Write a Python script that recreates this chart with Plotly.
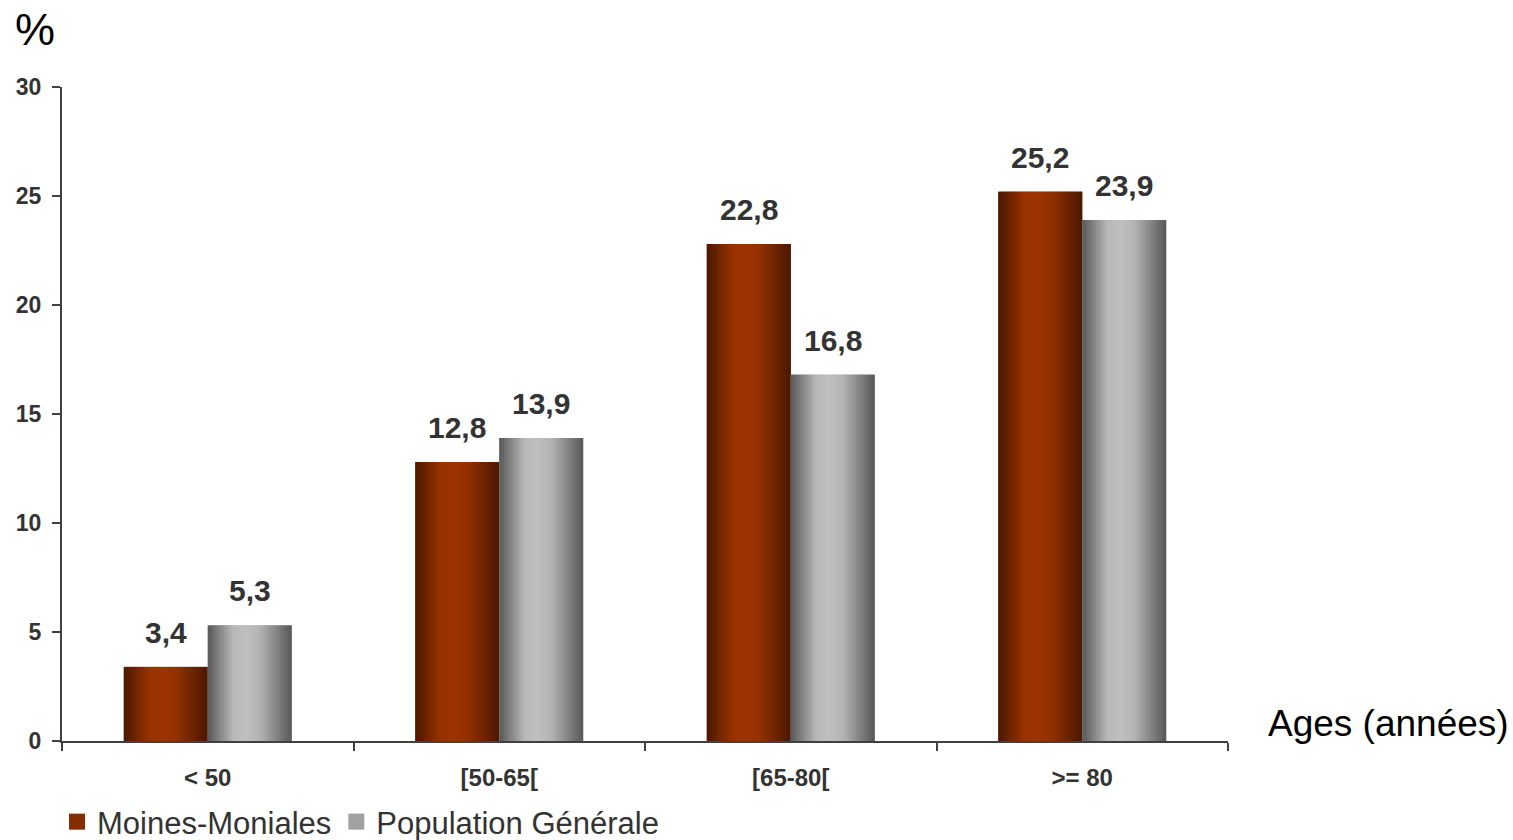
import plotly.graph_objects as go

# ---- data ----
categories = ["< 50", "[50-65[", "[65-80[", ">= 80"]
moines = [3.4, 12.8, 22.8, 25.2]
population = [5.3, 13.9, 16.8, 23.9]
series_names = ["Moines-Moniales", "Population Générale"]
y_ticks = [0, 5, 10, 15, 20, 25, 30]
x_title = "Ages (années)"
y_title = "%"

# ---- layout geometry / style ----
W, H = 1513, 840
ML, MR, MT, MB = 62, 285, 87, 99
plot_w = W - ML - MR
plot_h = H - MT - MB
BAR_W = 0.288
N = 36
FONT = "Liberation Sans, Arial, sans-serif"
TXT = "#333333"
AXC = "#404040"

dark_red, light_red = (74, 24, 0), (158, 52, 0)
dark_gray, light_gray = (88, 88, 88), (192, 192, 192)

keys = [(0.0, 0.0), (0.3, 0.92), (0.45, 1.0), (0.62, 0.88), (1.0, 0.0)]


def profile(t):
    for (t0, f0), (t1, f1) in zip(keys[:-1], keys[1:]):
        if t0 <= t <= t1:
            return f0 + (f1 - f0) * (t - t0) / (t1 - t0)
    return 0.0


def mix(c1, c2, f):
    return "rgb({},{},{})".format(*[round(a + (b - a) * f) for a, b in zip(c1, c2)])


series = [
    (moines, dark_red, light_red, series_names[0], -BAR_W),
    (population, dark_gray, light_gray, series_names[1], 0.0),
]

fig = go.Figure()
# legend entries (square swatches)
for vals, dk, lt, name, off0 in series:
    fig.add_scatter(
        x=[None], y=[None], mode="markers", name=name,
        marker=dict(symbol="square", size=16, color=mix(dk, lt, 0.7), line=dict(width=0)),
        hoverinfo="skip",
    )

for vals, dk, lt, name, off0 in series:
    fig.add_bar(
        x=categories, y=vals, name=name, offset=off0, width=BAR_W,
        marker=dict(color=mix(dk, lt, 0.75), line=dict(width=0)),
        showlegend=False, hoverinfo="skip",
    )
    for i in range(N):
        t = (i + 0.5) / N
        sw = BAR_W / N
        fig.add_bar(
            x=categories, y=vals, offset=off0 + i * sw,
            width=sw * (1.8 if i < N - 1 else 1.0),
            marker=dict(color=mix(dk, lt, profile(t)), line=dict(width=0)),
            showlegend=False, hoverinfo="skip",
        )

px_per_cat = plot_w / len(categories)
for vals, dk, lt, name, off0 in series:
    for c, v in zip(categories, vals):
        fig.add_annotation(
            x=c, y=v, text=f"{v:.1f}".replace(".", ","),
            xshift=(off0 + BAR_W / 2) * px_per_cat, yshift=16,
            yanchor="bottom", showarrow=False,
            font=dict(family=FONT, size=30, color=TXT, weight="bold"),
        )

fig.add_annotation(
    xref="paper", yref="paper", x=(13 - ML) / plot_w, y=(H - MB - 30) / plot_h,
    xanchor="left", yanchor="middle", text=y_title, showarrow=False,
    font=dict(family=FONT, size=45, color="#000000"),
)
fig.add_annotation(
    xref="paper", yref="paper", x=(1266 - ML) / plot_w, y=(H - MB - 723) / plot_h,
    xanchor="left", yanchor="middle", text=x_title, showarrow=False,
    font=dict(family=FONT, size=37, color="#000000"),
)

fig.update_layout(
    width=W, height=H, autosize=False,
    margin=dict(l=ML, r=MR, t=MT, b=MB, pad=0, autoexpand=False),
    barmode="overlay",
    plot_bgcolor="white", paper_bgcolor="white",
    showlegend=True,
    legend=dict(
        orientation="h", x=(57 - ML) / plot_w, xanchor="left",
        y=(H - MB - 822) / plot_h, yanchor="middle",
        font=dict(family=FONT, size=31, color=TXT),
        bgcolor="rgba(0,0,0,0)",
    ),
    xaxis=dict(
        type="category", range=[-0.5, len(categories) - 0.5],
        showline=True, linecolor=AXC, linewidth=2,
        ticks="outside", tickson="boundaries", ticklen=8, tickwidth=2, tickcolor=AXC,
        tickfont=dict(family=FONT, size=24, color=TXT, weight="bold"),
        ticklabelstandoff=14, showgrid=False, zeroline=False,
    ),
    yaxis=dict(
        range=[0, 30], tickvals=y_ticks,
        showline=True, linecolor=AXC, linewidth=2,
        ticks="outside", ticklen=8, tickwidth=2, tickcolor=AXC,
        tickfont=dict(family=FONT, size=23, color=TXT, weight="bold"),
        ticklabelstandoff=6, showgrid=False, zeroline=False,
    ),
)

fig.write_html(
    "out.html",
    config={"displayModeBar": False},
    post_script="document.body.style.margin='0px';",
)
